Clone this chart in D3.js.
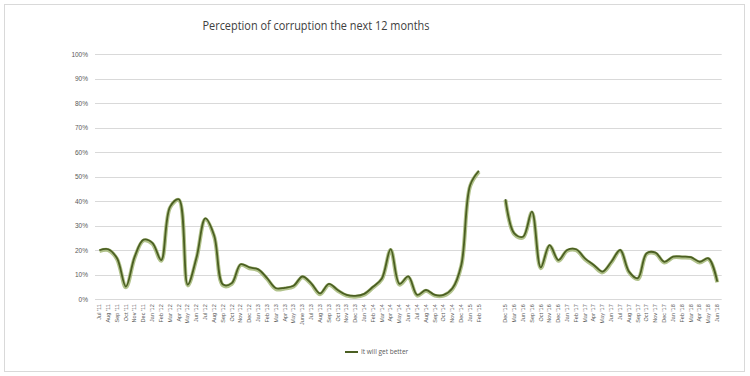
<!DOCTYPE html>
<html>
<head>
<meta charset="utf-8">
<script src="https://cdn.jsdelivr.net/npm/d3@7"></script>
<style>
  html, body { margin: 0; padding: 0; background: #fff; }
  svg { display: block; font-family: "Open Sans", "Liberation Sans", sans-serif; }
</style>
</head>
<body>
<svg id="chart" width="750" height="376"></svg>
<script>
const title = "Perception of corruption the next 12 months";
const seriesName = "It will get better";

const categories = [
  "Jul '11","Aug '11","Sep '11","Oct '11","Nov '11","Dec '11",
  "Jan '12","Feb '12","Mar '12","Apr '12","May '12","Jun '12","Jul '12","Aug '12","Sep '12","Oct '12","Nov '12","Dec '12",
  "Jan '13","Feb '13","Mar '13","Apr '13","May '13","June '13","Jul '13","Aug '13","Sep '13","Oct '13","Nov '13","Dec '13",
  "Jan '14","Feb '14","Mar '14","Apr '14","May '14","Jun '14","Jul '14","Aug '14","Sep '14","Oct '14","Nov '14","Dec '14",
  "Jan '15","Feb '15",
  "","",
  "Dec '15","Mar '16","Jun '16","Sep '16","Oct '16","Nov '16","Dec '16",
  "Jan '17","Feb '17","Mar '17","Apr '17","May '17","Jun '17","Jul '17","Aug '17","Sep '17","Oct '17","Nov '17","Dec '17",
  "Jan '18","Feb '18","Mar '18","Apr '18","May '18","Jun '18"
];

const values = [
  20.0, 20.4, 16.7, 5.2, 17.4, 24.3, 23.0, 16.0, 37.7, 40.8,
  6.0, 17.0, 33.0, 26.0, 6.0, 6.6, 14.3, 13.0, 12.2, 8.6,
  4.5, 4.7, 5.5, 9.3, 6.5, 2.4, 6.3, 3.8, 1.8, 1.4,
  2.2, 5.1, 8.5, 20.4, 6.3, 9.3, 1.8, 3.8, 1.8, 1.8,
  4.5, 14.0, 46.5, 52.4,
  null, null,
  40.8, 26.9, 25.5, 35.7, 13.0, 22.1, 16.0, 20.1, 20.4, 16.7,
  14.0, 11.3, 15.3, 20.1, 11.3, 8.6, 18.8, 19.0, 15.3, 17.4,
  17.4, 17.2, 15.3, 16.7, 7.2
];

const yTicks = [0, 10, 20, 30, 40, 50, 60, 70, 80, 90, 100];

const svg = d3.select("#chart");

// frame
svg.append("rect")
  .attr("x", 4.5).attr("y", 4.5)
  .attr("width", 740).attr("height", 367)
  .attr("fill", "#fff").attr("stroke", "#d9d9d9").attr("stroke-width", 1);

const plotLeft = 95, plotRight = 721.7, plotTop = 54, plotBottom = 299.3;

const x = d3.scaleBand()
  .domain(d3.range(categories.length))
  .range([plotLeft, plotRight])
  .padding(0);

const y = d3.scaleLinear().domain([0, 100]).range([plotBottom, plotTop]);

// gridlines
svg.append("g")
  .selectAll("line")
  .data(yTicks)
  .join("line")
  .attr("x1", plotLeft).attr("x2", plotRight)
  .attr("y1", d => Math.round(y(d)) + 0.5)
  .attr("y2", d => Math.round(y(d)) + 0.5)
  .attr("stroke", "#d9d9d9").attr("stroke-width", 1);

// y axis labels
const yAxis = d3.axisLeft(y).tickValues(yTicks).tickFormat(d => d + "%").tickSize(0).tickPadding(0);
const yg = svg.append("g").attr("transform", `translate(${plotLeft - 7},0)`).call(yAxis);
yg.select(".domain").remove();
yg.selectAll("text").attr("fill", "#595959").style("font-size", "6.5px");

// x axis labels
const xAxis = d3.axisBottom(x).tickFormat(i => categories[i]).tickSize(0).tickPadding(0);
const xg = svg.append("g").attr("transform", `translate(0,${plotBottom})`).call(xAxis);
xg.select(".domain").remove();
xg.selectAll("text")
  .attr("fill", "#595959")
  .style("font-size", "5.5px")
  .attr("text-anchor", "end")
  .attr("dy", "0.32em")
  .attr("transform", "translate(0,5) rotate(-90)")
  .attr("x", 0).attr("y", 0);

// line
const pts = values.map((v, i) => ({ i, v }));
const line = d3.line()
  .defined(d => d.v != null)
  .x(d => x(d.i) + x.bandwidth() / 2)
  .y(d => y(d.v))
  .curve(d3.curveCatmullRom.alpha(0.5));

svg.append("path")
  .datum(pts)
  .attr("d", line)
  .attr("fill", "none")
  .attr("stroke", "#9db36e")
  .attr("stroke-opacity", 0.8)
  .attr("stroke-width", 4)
  .attr("stroke-linejoin", "round")
  .attr("transform", "translate(0,0.8)");

svg.append("path")
  .datum(pts)
  .attr("d", line)
  .attr("fill", "none")
  .attr("stroke", "#4b5f22")
  .attr("stroke-width", 1.8)
  .attr("stroke-linejoin", "round");

// title
svg.append("text")
  .attr("x", 316).attr("y", 30)
  .attr("text-anchor", "middle")
  .attr("fill", "#404040")
  .style("font-size", "12.5px")
  .attr("textLength", 227)
  .attr("lengthAdjust", "spacingAndGlyphs")
  .text(title);

// legend
const lg = svg.append("g").attr("transform", "translate(345,352)");
lg.append("line").attr("x1", 0).attr("x2", 13).attr("y1", 0).attr("y2", 0)
  .attr("stroke", "#4b5f22").attr("stroke-width", 2);
lg.append("text").attr("x", 16).attr("y", 0).attr("dy", "0.35em")
  .attr("fill", "#595959").style("font-size", "6.5px").text(seriesName);
</script>
</body>
</html>
